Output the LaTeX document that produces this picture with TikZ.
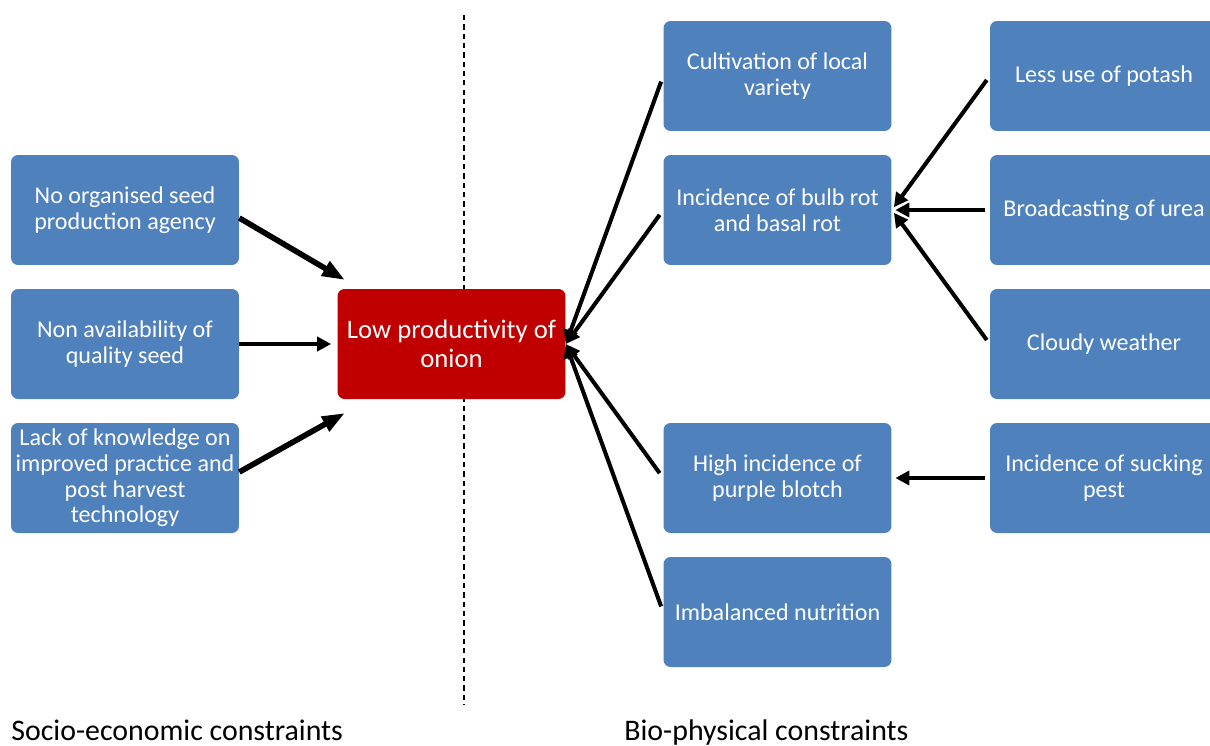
\documentclass[tikz,border=0pt]{standalone}
\usepackage{fontspec}
\setmainfont{Carlito}
\usetikzlibrary{arrows.meta}

\definecolor{boxblue}{HTML}{4F81BD}
\definecolor{boxred}{HTML}{C00000}

\tikzset{
  cause/.style={fill=boxblue, rounded corners=4pt, minimum width=4.56cm, minimum height=2.2cm,
    text=white, align=center, font=\fontsize{13.7}{14.6}\selectfont, inner sep=0pt},
  effect/.style={cause, fill=boxred, font=\fontsize{15.2}{16.4}\selectfont},
  link/.style={line width=2.3pt, -{Triangle[length=8pt, width=8pt]}},
  biglink/.style={line width=3.2pt, -{Triangle[length=13pt, width=9pt]}},
  side/.style={anchor=base west, inner sep=0pt, font=\fontsize{17}{20}\selectfont}
}

\begin{document}
\begin{tikzpicture}[x=0.02cm, y=-0.02cm]
  \clip (0, 0) rectangle (1210, 745);
  \fill[white] (0, 0) rectangle (1210, 745);

  \draw[line width=1pt, dash pattern=on 3pt off 2.3pt] (464, 15) -- (464, 705);

  % centre
  \node[effect] (low) at (451.5, 344) {Low productivity of\\onion};

  % socio-economic side
  \node[cause] (seed) at (125, 210) {No organised seed\\production agency};
  \node[cause] (avail) at (125, 344) {Non availability of\\quality seed};
  \node[cause] (know) at (125, 478) {Lack of knowledge on\\improved practice and\\post harvest\\technology};

  % bio-physical side
  \node[cause] (local) at (777.5, 76) {Cultivation of local\\variety};
  \node[cause] (rot) at (777.5, 210) {Incidence of bulb rot\\and basal rot};
  \node[cause] (blotch) at (777.5, 478) {High incidence of\\purple blotch};
  \node[cause] (nutri) at (777.5, 612) {Imbalanced nutrition};

  \node[cause] (potash) at (1104, 76) {Less use of potash};
  \node[cause] (urea) at (1104, 210) {Broadcasting of urea};
  \node[cause] (cloudy) at (1104, 344) {Cloudy weather};
  \node[cause] (pest) at (1104, 478) {Incidence of sucking\\pest};

  \coordinate (lowtop) at (345, 280);
  \coordinate (lowbot) at (345, 413);

  \draw[biglink] (seed.-4) -- (lowtop);
  \draw[link, shorten >=3.4pt] (avail.east) -- (low.west);
  \draw[biglink] (know.3) -- (lowbot);

  \draw[link, shorten <=3.4pt] (local.west) -- (low.east);
  \draw[link, shorten <=3.4pt] (rot.west) -- (low.east);
  \draw[link, shorten <=3.4pt] (blotch.west) -- (low.east);
  \draw[link, shorten <=3.4pt] (nutri.west) -- (low.east);

  \draw[link, shorten <=2.8pt, shorten >=2pt] (potash.west) -- (rot.east);
  \draw[link, shorten <=2.8pt, shorten >=2pt] (urea.west) -- (rot.east);
  \draw[link, shorten <=2.8pt, shorten >=2pt] (cloudy.west) -- (rot.east);
  \draw[link, shorten <=2.8pt, shorten >=2pt] (pest.west) -- (blotch.east);

  \node[side] (socio) at (11, 740) {Socio-economic constraints};
  \node[side] (bio) at (624, 740) {Bio-physical constraints};
\end{tikzpicture}
\end{document}
